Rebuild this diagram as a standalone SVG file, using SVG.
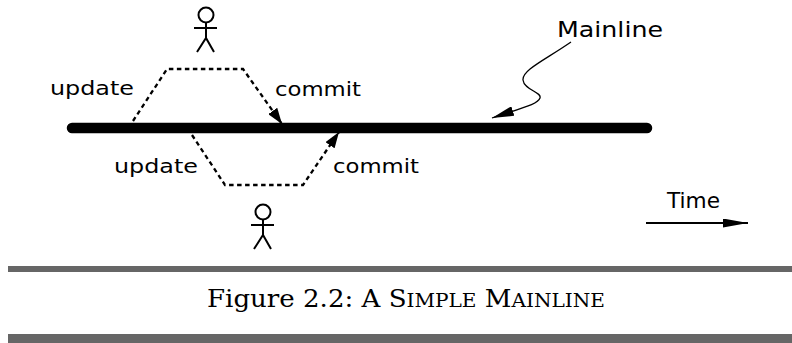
<svg xmlns="http://www.w3.org/2000/svg" width="792" height="343" viewBox="0 0 792 343">
<style>
.lbl{font-family:"DejaVu Sans","Liberation Sans",sans-serif;fill:#000}
.dash{fill:none;stroke:#000;stroke-width:2.3;stroke-dasharray:4.5 3.5}
.thin{fill:none;stroke:#000;stroke-width:1.3}
.fig{fill:none;stroke:#000;stroke-width:2}
.bar{fill:#666}
.cap{font-family:"DejaVu Serif","Liberation Serif",serif;fill:#000}
</style>
<defs>
<marker id="ah" viewBox="0 0 16 11" refX="16" refY="5.5" markerWidth="16" markerHeight="11" markerUnits="userSpaceOnUse" orient="auto">
<path d="M0,0 L16,5.5 L0,11 z" fill="#000"/>
</marker>
<marker id="ahL" viewBox="0 0 22 10" refX="22" refY="5" markerWidth="22" markerHeight="10" markerUnits="userSpaceOnUse" orient="auto">
<path d="M0,0 L22,5 L0,10 z" fill="#000"/>
</marker>
<marker id="ahT" viewBox="0 0 25 9" refX="25" refY="4.5" markerWidth="25" markerHeight="9" markerUnits="userSpaceOnUse" orient="auto">
<path d="M0,0 L25,4.5 L0,9 z" fill="#000"/>
</marker>
<g id="person" class="fig">
<circle cx="0" cy="0" r="7.5"/>
<path d="M0,7.5 L0,23 M-12,13 L11,13 M-9,37 L0,23 L8,37"/>
</g>
</defs>

<g id="mainline-bar">
<line x1="72" y1="128" x2="647" y2="128" stroke="#000" stroke-width="10.5" stroke-linecap="round"/>
</g>

<g id="connectors">
<path class="dash" d="M133,121 L167,69 L243,69 L282,124" marker-end="url(#ah)"/>
<path class="dash" d="M192,135 L225,185 L303,185 L339,132" marker-end="url(#ah)"/>
<path class="thin" d="M571,42 C545,60 522,70 523,80 C524,90 542,92 540,98 C538,104 525,107 492,118" marker-end="url(#ahL)"/>
<path d="M646,223 L748,223" fill="none" stroke="#000" stroke-width="2" marker-end="url(#ahT)"/>
</g>

<g id="developer-top"><use href="#person" x="206" y="15"/></g>
<g id="developer-bottom"><use href="#person" x="263" y="212"/></g>

<g id="labels">
<text class="lbl" x="50" y="95" font-size="19" textLength="84" lengthAdjust="spacingAndGlyphs">update</text>
<text class="lbl" x="275" y="96" font-size="19" textLength="86" lengthAdjust="spacingAndGlyphs">commit</text>
<text class="lbl" x="114" y="173" font-size="19" textLength="84" lengthAdjust="spacingAndGlyphs">update</text>
<text class="lbl" x="333" y="173" font-size="19" textLength="86" lengthAdjust="spacingAndGlyphs">commit</text>
<text class="lbl" x="557" y="37" font-size="21" textLength="106" lengthAdjust="spacingAndGlyphs">Mainline</text>
<text class="lbl" x="667" y="208" font-size="20.5" textLength="53" lengthAdjust="spacingAndGlyphs">Time</text>
</g>

<g id="caption">
<rect class="bar" x="8" y="266" width="784" height="6"/>
<text class="cap" x="207" y="307" font-size="24" textLength="398" lengthAdjust="spacingAndGlyphs">Figure 2.2: A S<tspan font-size="18.5">IMPLE</tspan> M<tspan font-size="18.5">AINLINE</tspan></text>
<rect class="bar" x="8" y="334" width="784" height="9"/>
</g>
</svg>
